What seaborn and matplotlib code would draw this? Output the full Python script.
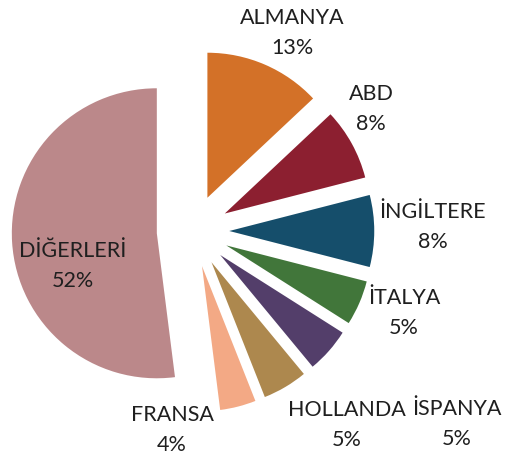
import matplotlib
matplotlib.use("Agg")
import matplotlib.pyplot as plt
import seaborn as sns

countries = ["ALMANYA", "ABD", "İNGİLTERE", "İTALYA", "İSPANYA", "HOLLANDA", "FRANSA", "DİĞERLERİ"]
shares = [13, 8, 8, 5, 5, 5, 4, 52]
colors_hex = ["#D37128", "#8C1F30", "#154E6B", "#41763A", "#533E6A", "#AD884E", "#F3A985", "#BB888A"]

sns.set_style("white")
plt.rcParams['font.family'] = ['Lato', 'DejaVu Sans']

W, H = 505, 461
fig = plt.figure(figsize=(W / 100, H / 100), dpi=100)
ax = fig.add_axes([0, 0, 1, 1])

palette = sns.color_palette(colors_hex)
ax.pie(shares, colors=palette, startangle=90, counterclock=False,
       explode=[0.25] * len(shares), radius=1.0,
       wedgeprops=dict(linewidth=0))

# map pixel layout: pie centre at (193, 231), radius 145 px
cx, cy, r = 193, 231, 145
ax.set_xlim(-cx / r, (W - cx) / r)
ax.set_ylim(-(H - cy) / r, cy / r)
ax.set_aspect('equal')
ax.axis('off')

# label positions in pixels (centre of two-line label)
label_pos = [(292, 33), (371, 109), (433, 227), (404, 313), (457, 424), (347, 425), (172, 430), (73, 266)]
for name, val, (px, py) in zip(countries, shares, label_pos):
    ax.text(px / W, 1 - py / H, f"{name}\n{val}%", transform=ax.transAxes,
            ha='center', va='center', fontsize=15.5, color='#1f1f1f',
            linespacing=1.6)

fig.savefig("out.png", dpi=100)
